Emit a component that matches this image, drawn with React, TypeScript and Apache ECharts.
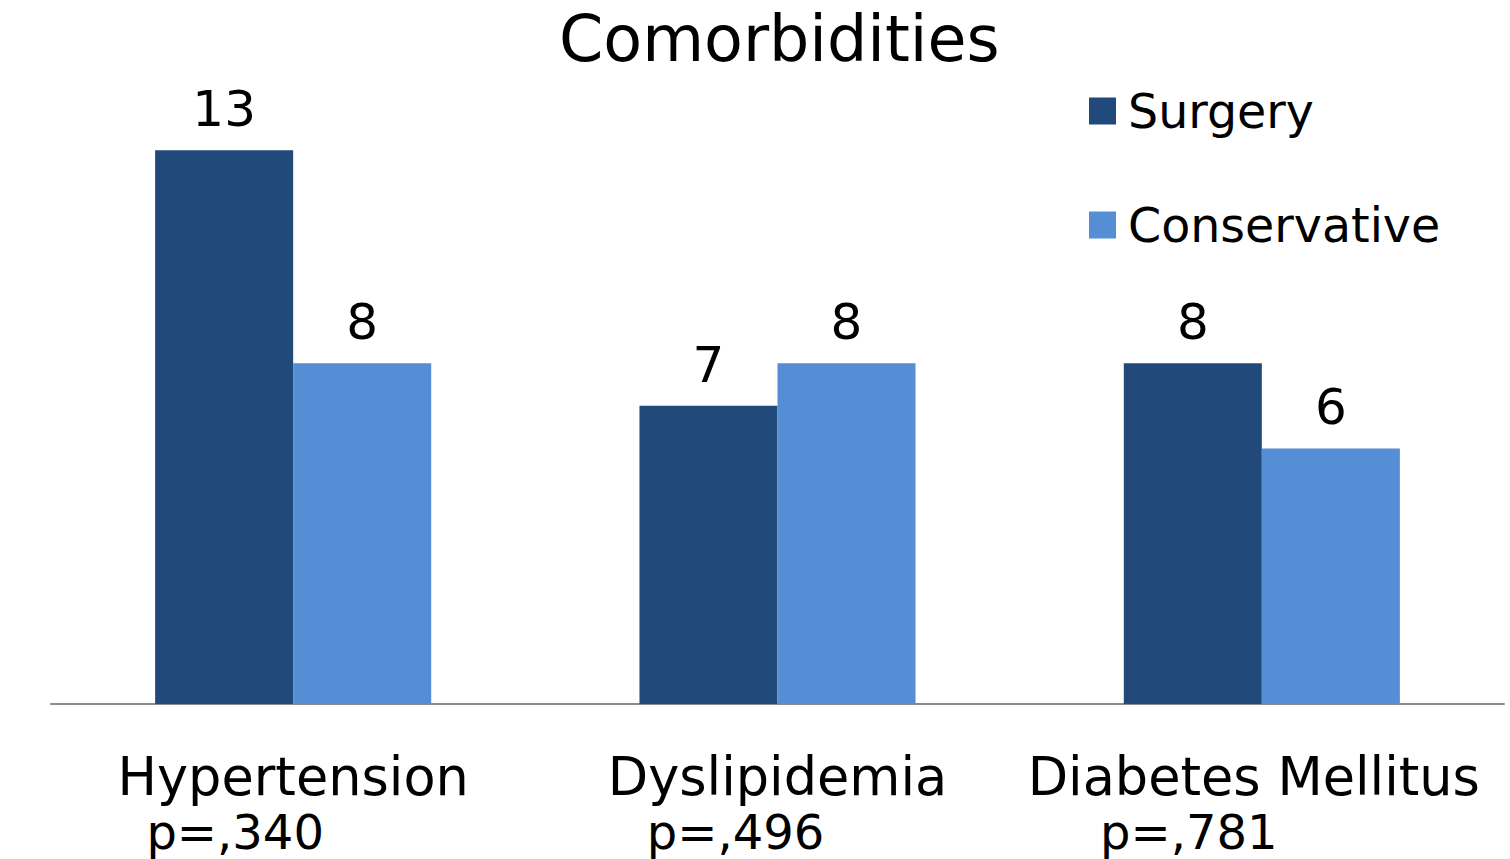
import React, { useEffect, useRef } from "react";
import * as echarts from "echarts";

const categories = ["Hypertension", "Dyslipidemia", "Diabetes Mellitus"];
const pValues = ["p=,340", "p=,496", "p=,781"];
const surgery = [13, 7, 8];
const conservative = [8, 8, 6];
// right padding on each p-value line, nudging it left under its category name
const pShift = [116, 84, 146];
// right padding on each category name line
const nameShift = [0, 0, 16];

const FONT = "DejaVu Sans, Verdana, sans-serif";

export default function App() {
  const ref = useRef<HTMLDivElement>(null);

  useEffect(() => {
    if (!ref.current) return;
    const chart = echarts.init(ref.current, undefined, { renderer: "svg" });
    const rich: Record<string, any> = {};
    pShift.forEach((s, i) => {
      rich["n" + i] = {
        fontSize: 52.5,
        fontFamily: FONT,
        color: "#000",
        lineHeight: 56,
        padding: [0, nameShift[i], 0, 0],
      };
      rich["p" + i] = {
        fontSize: 48,
        fontFamily: FONT,
        color: "#000",
        lineHeight: 56,
        padding: [0, s, 0, 0],
      };
    });
    const valueLabel = {
      show: true,
      position: "top",
      distance: 16,
      fontSize: 50,
      fontFamily: FONT,
      color: "#000",
    };
    chart.setOption({
      animation: false,
      backgroundColor: "#fff",
      title: {
        text: "Comorbidities",
        left: 554,
        top: 2,
        textStyle: { fontSize: 63.5, fontWeight: "normal", fontFamily: FONT, color: "#000" },
      },
      legend: {
        orient: "vertical",
        left: 1089,
        top: 87,
        padding: 0,
        icon: "rect",
        itemWidth: 27,
        itemHeight: 27,
        itemGap: 66,
        textStyle: { fontSize: 47.5, fontFamily: FONT, color: "#000", padding: [0, 0, 0, 7] },
        data: ["Surgery", "Conservative"],
      },
      grid: { left: 51, right: 6, top: 65, bottom: 155, containLabel: false },
      xAxis: {
        type: "category",
        data: categories,
        axisLine: { lineStyle: { color: "#8c8c8c", width: 2 } },
        axisTick: { show: false },
        axisLabel: {
          margin: 44,
          interval: 0,
          formatter: (v: string, i: number) => `{n${i}|${v}}\n{p${i}|${pValues[i]}}`,
          rich,
        },
      },
      yAxis: {
        type: "value",
        min: 0,
        max: 15,
        show: false,
        splitLine: { show: false },
      },
      series: [
        {
          name: "Surgery",
          type: "bar",
          data: surgery,
          barGap: "0%",
          barCategoryGap: "43%",
          itemStyle: { color: "#214a7b" },
          label: valueLabel,
        },
        {
          name: "Conservative",
          type: "bar",
          data: conservative,
          barGap: "0%",
          barCategoryGap: "43%",
          itemStyle: { color: "#558ed5" },
          label: valueLabel,
        },
      ],
    });
    return () => chart.dispose();
  }, []);

  return (
    <div
      ref={ref}
      style={{ position: "absolute", left: 0, top: 0, width: 1510, height: 859 }}
    />
  );
}
